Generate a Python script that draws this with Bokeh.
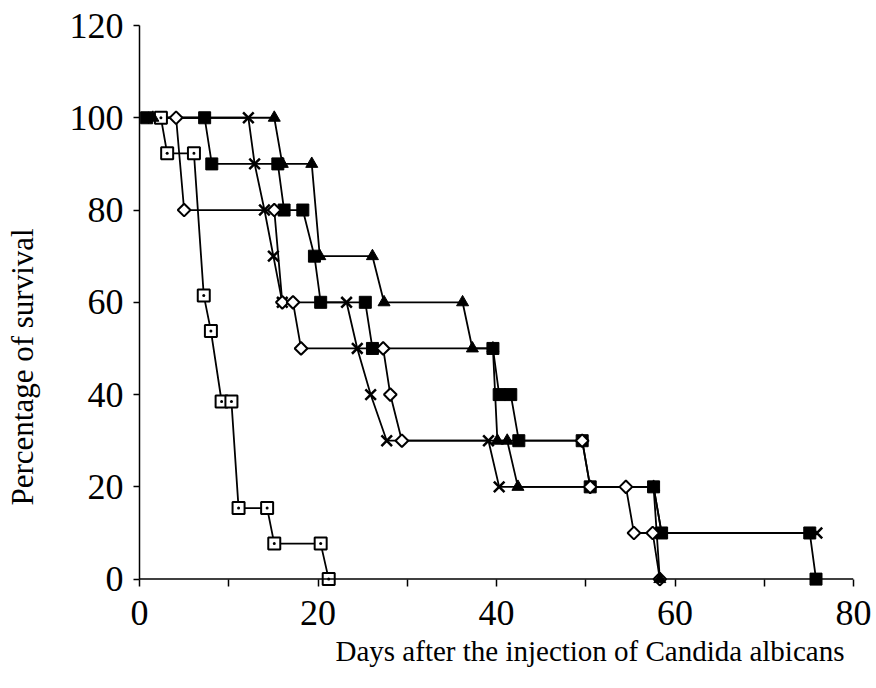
import math
from bokeh.plotting import figure
from bokeh.models import FixedTicker, Range1d, Span, Title, LinearAxis
from bokeh.embed import file_html
from bokeh.resources import INLINE

# ---- data ----
x_ticks = [0, 10, 20, 30, 40, 50, 60, 70, 80]
x_tick_labels = {0: "0", 10: "", 20: "20", 30: "", 40: "40", 50: "", 60: "60", 70: "", 80: "80"}
y_ticks = [0, 20, 40, 60, 80, 100, 120]

open_sq_x = [2.4, 3.1, 6.1, 7.2, 8.0, 9.2, 10.3, 11.1, 14.3, 15.1, 20.3, 21.2]
open_sq_y = [100, 92.3, 92.3, 61.5, 53.8, 38.5, 38.5, 15.4, 15.4, 7.7, 7.7, 0]

filled_sq_x = [0.8, 7.3, 8.1, 15.5, 16.2, 18.3, 19.6, 20.3, 25.3, 26.1, 39.6, 40.3, 41.6, 42.5, 49.6, 50.5, 57.6, 58.5, 75.1, 75.8]
filled_sq_y = [100, 100, 90, 90, 80, 80, 70, 60, 60, 50, 50, 40, 40, 30, 30, 20, 20, 10, 10, 0]

diamond_x = [4.1, 5.0, 15.1, 16.0, 17.2, 18.1, 27.3, 28.1, 29.4, 49.6, 50.5, 54.5, 55.4, 57.5, 58.3]
diamond_y = [100, 80, 80, 60, 60, 50, 50, 40, 30, 30, 20, 20, 10, 10, 0]

cross_x = [1.5, 12.2, 12.9, 14.0, 15.0, 16.0, 23.2, 24.4, 25.9, 27.7, 39.1, 40.3, 57.6, 58.5, 75.9]
cross_y = [100, 100, 90, 80, 70, 60, 60, 50, 40, 30, 30, 20, 20, 10, 10]

tri_x = [1.5, 15.1, 16.0, 19.3, 20.2, 26.1, 27.4, 36.2, 37.3, 39.6, 40.1, 41.2, 42.4, 57.6, 58.3]
tri_y = [100, 100, 90, 90, 70, 70, 60, 60, 50, 50, 30, 30, 20, 20, 0]

x_title = "Days after the injection of Candida albicans"
y_title = "Percentage of survival"

FONT = "Liberation Serif"
Y_PAD = 1.6  # room below y=0 so markers sitting on the axis are not clipped

p = figure(width=876, height=688, output_backend="svg", toolbar_location=None,
           x_range=Range1d(0, 80), y_range=Range1d(-Y_PAD, 120),
           min_border_left=139, min_border_right=23, min_border_top=25, min_border_bottom=102)
p.outline_line_color = None
p.xgrid.grid_line_color = None
p.ygrid.grid_line_color = None
p.background_fill_color = "white"

for ax in (p.xaxis[0], p.yaxis[0]):
    ax.axis_line_color = "black"
    ax.axis_line_width = 1.5
    ax.major_tick_line_color = "black"
    ax.major_tick_line_width = 1.5
    ax.major_tick_in = 0
    ax.major_tick_out = 6
    ax.minor_tick_line_color = None
    ax.major_label_text_font = FONT
    ax.major_label_text_font_size = "36px"
    ax.major_label_text_color = "black"

xa = p.xaxis[0]
xa.ticker = FixedTicker(ticks=x_ticks)
xa.major_label_overrides = x_tick_labels
xa.axis_line_color = None          # real baseline is drawn at y=0 below
xa.major_tick_in = 7
xa.major_tick_out = 0
xa.major_label_standoff = 14
p.add_layout(Span(location=0, dimension="width", line_color="black", line_width=1.5))

ya = p.yaxis[0]
ya.ticker = FixedTicker(ticks=y_ticks)
ya.major_label_standoff = 10
ya.bounds = (0, 120)

# invisible spacer panel between the y tick labels and the y title
spacer = LinearAxis(ticker=FixedTicker(ticks=[0]), major_label_overrides={0: ""},
                    axis_line_color=None, major_tick_line_color=None,
                    minor_tick_line_color=None, major_tick_in=0, major_tick_out=27,
                    major_label_standoff=0, major_label_text_font_size="1px")
p.add_layout(spacer, "left")

yt = Title(text=y_title, align="left", offset=81, standoff=0,
           text_font=FONT, text_font_size="31px", text_font_style="normal", text_color="black")
p.add_layout(yt, "left")

xt = Title(text=x_title, align="left", offset=196,
           text_font=FONT, text_font_size="29px", text_font_style="normal", text_color="black")
p.add_layout(xt, "below")

LW = 1.8
# lines
for xs, ys in [(cross_x, cross_y), (tri_x, tri_y), (open_sq_x, open_sq_y),
               (filled_sq_x, filled_sq_y), (diamond_x, diamond_y)]:
    p.line(xs, ys, line_color="black", line_width=LW)

# markers
p.scatter(cross_x, cross_y, marker="x", size=15, line_color="black", line_width=2.5)
p.scatter(open_sq_x, open_sq_y, marker="square_dot", size=12, line_color="black",
          fill_color="white", line_width=2)
p.scatter(filled_sq_x, filled_sq_y, marker="square", size=12, line_color="black",
          fill_color="black", line_width=1)
p.scatter(diamond_x, diamond_y, marker="square", angle=math.pi / 4, size=9,
          line_color="black", fill_color="white", line_width=2)
p.scatter(tri_x, tri_y, marker="triangle", size=12, line_color="black",
          fill_color="black", line_width=1)

open("out.html", "w").write(file_html(p, INLINE))
